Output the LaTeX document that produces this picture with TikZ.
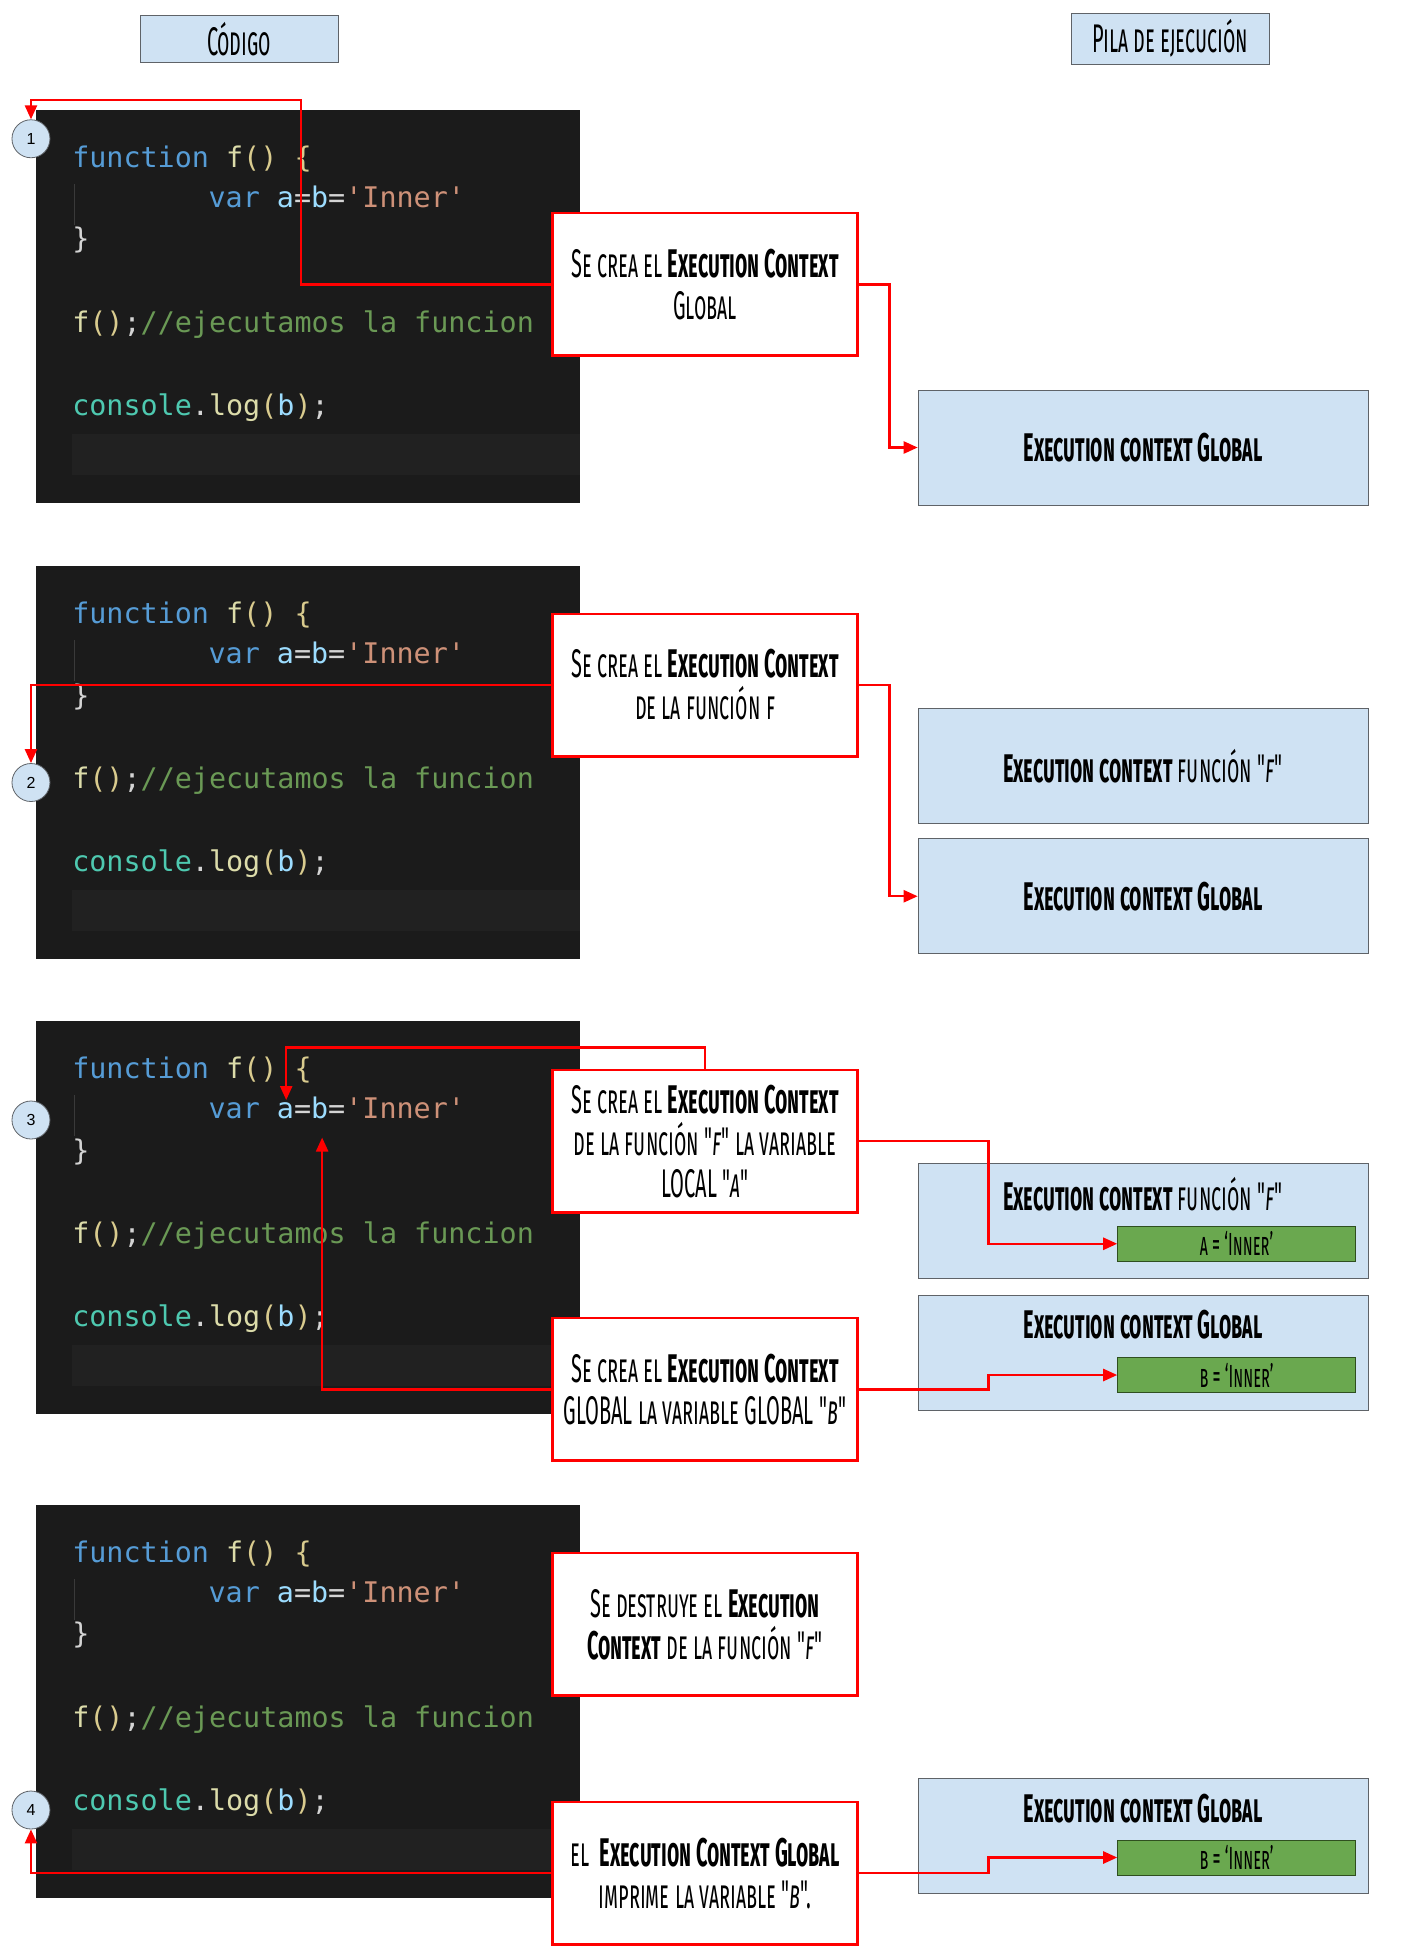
\documentclass[tikz,border=0pt]{standalone}
\usepackage{fontspec}
\usepackage{tikz}
\usetikzlibrary{arrows.meta}

\setmonofont{DejaVu Sans Mono}
\newfontfamily\amatic[Letters=SmallCaps,FakeStretch=0.5]{Fira Sans}
\newfontfamily\arial{Liberation Sans}

\definecolor{codebg}{HTML}{1B1B1B}
\definecolor{codehl}{HTML}{212121}
\definecolor{guidegray}{HTML}{3A3A3A}
\definecolor{kwblue}{HTML}{569CD6}
\definecolor{fnyel}{HTML}{DCDCAA}
\definecolor{brace}{HTML}{D9CB8E}
\definecolor{varblue}{HTML}{9CDCFE}
\definecolor{strorange}{HTML}{CE9178}
\definecolor{cmtgreen}{HTML}{6A9955}
\definecolor{clsteal}{HTML}{4EC9B0}
\definecolor{punct}{HTML}{D4D4D4}
\definecolor{stackblue}{HTML}{CFE2F3}
\definecolor{stackline}{HTML}{5F6368}
\definecolor{vargreen}{HTML}{6AA84F}
\definecolor{varline}{HTML}{2F4F1F}

\tikzset{
  header/.style={draw=stackline,fill=stackblue,minimum width=99pt,minimum height=22.5pt,
    font=\amatic\fontsize{20}{22}\selectfont},
  note/.style={draw=red,line width=1.2pt,fill=white,minimum width=152.4pt,minimum height=71.3pt,
    align=center,font=\amatic\fontsize{20}{21}\selectfont},
  stack/.style={draw=stackline,fill=stackblue,minimum width=224.9pt,minimum height=57.5pt,
    font=\amatic\fontsize{20}{22}\selectfont},
  stacklabel/.style={font=\amatic\fontsize{20}{22}\selectfont},
  varbox/.style={draw=varline,fill=vargreen,minimum width=118.9pt,minimum height=17.5pt,
    inner sep=0pt,font=\amatic\fontsize{16}{17}\selectfont},
  stepnum/.style={circle,draw=stackline,fill=stackblue,minimum size=19pt,inner sep=0pt,
    font=\arial\fontsize{8}{9}\selectfont},
  link/.style={draw=red,line width=1.2pt,-{Triangle[length=7pt,width=6pt]}},
  codebox/.style={fill=codebg,minimum width=272pt,minimum height=196.25pt,inner sep=0pt},
  code/.style={anchor=base west,inner sep=0pt,font=\ttfamily\fontsize{14.2}{17}\selectfont}
}

\begin{document}
\begin{tikzpicture}[x=0.6195pt,y=-0.625pt]
  \useasboundingbox[fill=white] (0,0) rectangle (1130,1560);

  % titulos
  \node[header] (codigo) at (193,31) {Código};
  \node[header] (pila) at (944.5,31) {Pila de ejecución};

  % bloques de codigo
  \foreach \p/\t in {1/88,2/453,3/817,4/1204}{
    \node[codebox] (code\p) at (248.5,\t+157) {};
    \fill[codehl] (58,\t+259) rectangle (468,\t+292);
    \draw[guidegray,line width=0.8pt] (60,\t+59) -- (60,\t+92);
    \node[code] (fn\p) at (58,\t+46)
      {\textcolor{kwblue}{function} \textcolor{fnyel}{f}\textcolor{brace}{()} \textcolor{brace}{\{}};
    \node[code] (body\p) at (168,\t+78)
      {\textcolor{kwblue}{var} \textcolor{varblue}{a}\textcolor{punct}{=}\textcolor{varblue}{b}\textcolor{punct}{=}\textcolor{strorange}{'Inner'}};
    \node[code] (close\p) at (58,\t+111) {\textcolor{punct}{\}}};
    \node[code] (call\p) at (58,\t+178)
      {\textcolor{fnyel}{f}\textcolor{brace}{()}\textcolor{punct}{;}\textcolor{cmtgreen}{//ejecutamos la funcion}};
    \node[code] (log\p) at (58,\t+244)
      {\textcolor{clsteal}{console}\textcolor{punct}{.}\textcolor{fnyel}{log}\textcolor{brace}{(}\textcolor{varblue}{b}\textcolor{brace}{)}\textcolor{punct}{;}};
  }

  % pasos
  \node[stepnum] (c1) at (25,111) {1};
  \node[stepnum] (c2) at (25,626) {2};
  \node[stepnum] (c3) at (25,896) {3};
  \node[stepnum] (c4) at (25,1448) {4};
  \coordinate (a3) at (231,880);
  \coordinate (b3) at (260,910);

  % notas
  \node[note] (r1) at (569,227.5) {Se crea el \textbf{Execution Context}\\Global};
  \node[note] (r2) at (569,548) {Se crea el \textbf{Execution Context}\\de la función f};
  \node[note] (r3a) at (569,913) {Se crea el \textbf{Execution Context}\\de la función "\textit{f}" la variable\\LOCAL "\textit{a}"};
  \node[note] (r3b) at (569,1111.5) {Se crea el \textbf{Execution Context}\\GLOBAL la variable GLOBAL "\textit{b}"};
  \node[note] (r4a) at (569,1299.5) {Se destruye el \textbf{Execution}\\\textbf{Context} de la función "\textit{f}"};
  \node[note] (r4b) at (569,1498.5) {el\ \ \textbf{Execution Context Global}\\imprime la variable "\textit{b}".};

  % pila de ejecucion
  \node[stack] (s1) at (922.5,358) {\textbf{Execution context Global}};
  \node[stack] (s2f) at (922.5,613) {\textbf{Execution context} función "\textit{f}"};
  \node[stack] (s2g) at (922.5,717) {\textbf{Execution context Global}};
  \node[stack] (s3f) at (922.5,977) {};
  \node[stacklabel] (s3flab) at (922.5,955) {\textbf{Execution context} función "\textit{f}"};
  \node[varbox] (g3a) at (998,995) {a = ‘Inner’};
  \node[stack] (s3g) at (922.5,1082) {};
  \node[stacklabel] (s3glab) at (922.5,1060) {\textbf{Execution context Global}};
  \node[varbox] (g3b) at (998,1100) {b = ‘Inner’};
  \node[stack] (s4g) at (922.5,1469) {};
  \node[stacklabel] (s4glab) at (922.5,1447) {\textbf{Execution context Global}};
  \node[varbox] (g4) at (998,1486) {b = ‘Inner’};

  % conectores
  \draw[link] (r1.west) -| (243,80) -| (c1.north);
  \draw[link] (r1.east) -- ++(15.5pt,0) |- (s1.west);
  \draw[link] (r2.west) -| (c2.north);
  \draw[link] (r2.east) -- ++(15.5pt,0) |- (s2g.west);
  \draw[link] (r3a.north) -- ++(0,10.6pt) -| (a3);
  \draw[link] (r3a.east) -- ++(65pt,0) |- (g3a.west);
  \draw[link] (r3b.west) -| (b3);
  \draw[link] (r3b.east) -- ++(65pt,0) |- (g3b.west);
  \draw[link] (r4b.west) -| (c4.south);
  \draw[link] (r4b.east) -- ++(65pt,0) |- (g4.west);
\end{tikzpicture}
\end{document}
